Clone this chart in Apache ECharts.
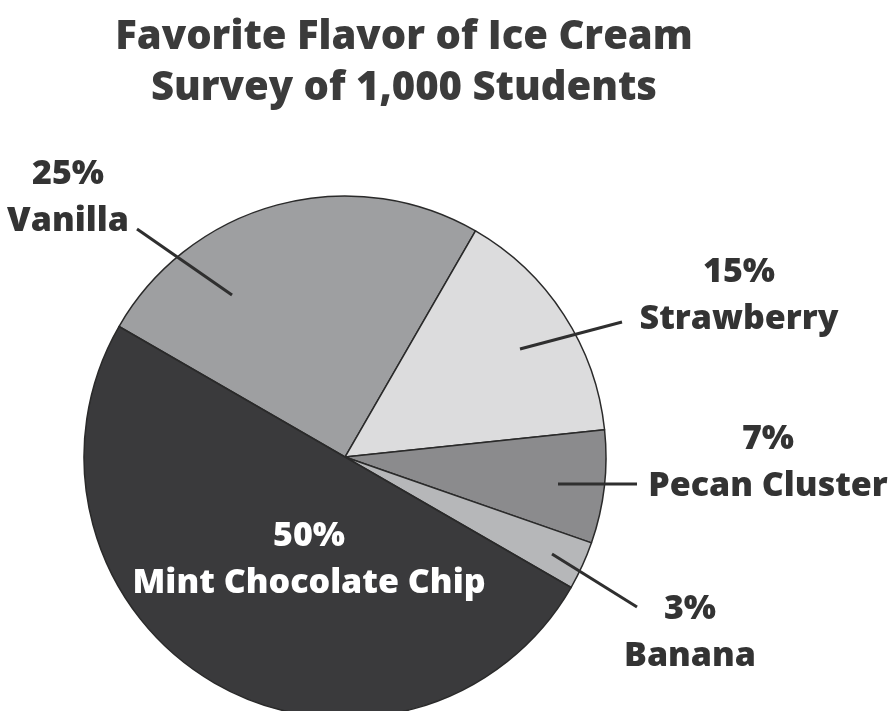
<!DOCTYPE html>
<html>
<head>
<meta charset="utf-8">
<script src="https://cdn.jsdelivr.net/npm/echarts@6/dist/echarts.min.js"></script>
<style>
  html, body { margin: 0; padding: 0; background: #fff; }
  #chart { width: 888px; height: 711px; }
</style>
</head>
<body>
<div id="chart"></div>
<script>
// data
const flavors = ['Vanilla', 'Strawberry', 'Pecan Cluster', 'Banana', 'Mint Chocolate Chip']
const shares = [25, 15, 7, 3, 50]
const sliceColors = ['#9e9fa1', '#dcdcdd', '#8b8b8d', '#b6b7b9', '#3a3a3c']
const titleLines = ['Favorite Flavor of Ice Cream', 'Survey of 1,000 Students']

// where each label sits and where its pointer line runs (layout only)
const labelSpots = [
  { x: 68, y: 198, line: [[137, 229], [232, 295]] },
  { x: 739, y: 296, line: [[622, 322], [520, 349]] },
  { x: 768, y: 463, line: [[637, 484], [558, 484]] },
  { x: 690, y: 633, line: [[637, 607], [552, 554]] },
  { x: 309, y: 560 },
]

const chart = echarts.init(document.getElementById('chart'))

const seriesData = flavors.map((name, i) => {
  const item = { name: name, value: shares[i], itemStyle: { color: sliceColors[i] } }
  if (i === 4) {
    item.label = { color: '#ffffff' }
  }
  return item
})

// pointer lines drawn on top of the slices
const pointerLines = labelSpots.filter(s => s.line).map(s => ({
  type: 'polyline',
  z: 100,
  silent: true,
  shape: { points: s.line },
  style: { stroke: '#2f2f2f', lineWidth: 3, fill: null },
}))

chart.setOption({
  backgroundColor: '#ffffff',
  animation: false,
  title: {
    text: titleLines.join('\n'),
    left: 404,
    top: 12,
    padding: 0,
    textAlign: 'center',
    textStyle: {
      fontFamily: 'Open Sans',
      fontWeight: 800,
      fontSize: 40,
      lineHeight: 51,
      color: '#3b3b3b',
    },
  },
  graphic: pointerLines,
  series: [
    {
      type: 'pie',
      center: [345, 457],
      radius: 261,
      startAngle: 150,
      clockwise: true,
      avoidLabelOverlap: false,
      itemStyle: {
        borderColor: '#2a2a2a',
        borderWidth: 1.5,
      },
      label: {
        show: true,
        position: 'outside',
        formatter: '{c}%\n{b}',
        fontFamily: 'Open Sans',
        fontWeight: 800,
        fontSize: 34,
        lineHeight: 47,
        color: '#333333',
        align: 'center',
      },
      labelLine: { show: false },
      labelLayout: function (params) {
        const s = labelSpots[params.dataIndex]
        return { x: s.x, y: s.y, align: 'center', verticalAlign: 'middle' }
      },
      emphasis: { disabled: true },
      data: seriesData,
    },
  ],
})
</script>
</body>
</html>
